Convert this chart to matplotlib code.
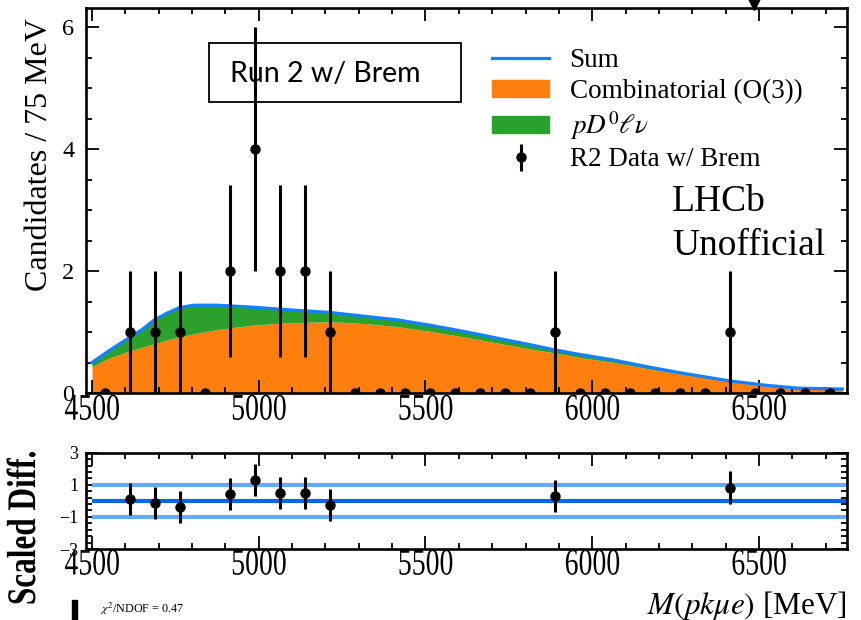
import numpy as np
import matplotlib
matplotlib.use("Agg")
import matplotlib.pyplot as plt
from matplotlib.patches import Patch, Rectangle
from matplotlib.lines import Line2D
from matplotlib.ticker import MultipleLocator, AutoMinorLocator
from matplotlib.patheffects import AbstractPathEffect
from matplotlib.transforms import Affine2D

plt.rcParams["font.family"] = "serif"
plt.rcParams["font.serif"] = ["Liberation Serif", "DejaVu Serif"]
plt.rcParams["mathtext.fontset"] = "stix"

# binned data (75 MeV bins)
bin_centers = np.arange(4537.5, 6750, 75)
counts = np.array([0, 1, 1, 1, 0, 2, 4, 2, 2, 1, 0, 0, 0, 0, 0,
                   0, 0, 0, 1, 0, 0, 0, 0, 0, 0, 1, 0, 0, 0, 0])
errors = np.sqrt(counts)

# fit components
curve_mass = [4500, 4550, 4612.5, 4650, 4687.5, 4725, 4762.5, 4805, 4875, 4975,
              5075, 5215, 5315, 5415, 5515, 5615, 5715, 5815, 5885, 5965,
              6065, 6165, 6265, 6410, 6515, 6615, 6750]
comb = [0.43, 0.57, 0.69, 0.75, 0.81, 0.87, 0.92, 0.97, 1.04, 1.11,
        1.15, 1.17, 1.14, 1.09, 1.01, 0.92, 0.82, 0.72, 0.66, 0.58,
        0.50, 0.40, 0.31, 0.19, 0.12, 0.07, 0.055]
pdlnu = [0.07, 0.12, 0.22, 0.29, 0.39, 0.44, 0.48, 0.47, 0.40, 0.30,
         0.22, 0.15, 0.12, 0.11, 0.10, 0.09, 0.08, 0.07, 0.05, 0.05,
         0.04, 0.03, 0.02, 0.01, 0.01, 0.01, 0.01]

# scaled differences
pull_mass = [4612.5, 4687.5, 4762.5, 4912.5, 4987.5, 5062.5, 5137.5, 5212.5, 5887.5, 6412.5]
pull = [0.10, -0.15, -0.37, 0.44, 1.31, 0.48, 0.48, -0.27, 0.31, 0.83]
pull_err = [1, 1, 1, 1, 1, 1, 1, 1, 1, 1]

orange = "#ff7f0e"
green = "#2ca02c"
blue = "#1380ff"


class Stretch(AbstractPathEffect):
    # stretch glyphs around their centre (the original has tall labels)
    def __init__(self, sx=1.0, sy=1.0):
        super().__init__()
        self.sx, self.sy = sx, sy

    def draw_path(self, renderer, gc, tpath, affine, rgbFace=None):
        ext = tpath.get_extents()
        cx, cy = ext.x0 + ext.width / 2, ext.y0 + ext.height / 2
        t = Affine2D().translate(-cx, -cy).scale(self.sx, self.sy).translate(cx, cy)
        renderer.draw_path(gc, tpath, t + affine, rgbFace)


W, H = 861, 620
fig = plt.figure(figsize=(W / 100, H / 100), dpi=100)
ax = fig.add_axes([86 / W, 1 - 393 / H, (847 - 86) / W, (393 - 8.3) / H])
axp = fig.add_axes([86 / W, 1 - 549 / H, (847 - 86) / W, (549 - 452.7) / H])

# main panel
comb = np.array(comb)
total = comb + np.array(pdlnu)
ax.fill_between(curve_mass, 0, comb, color=orange, lw=0)
ax.fill_between(curve_mass, comb, total, color=green, lw=0)
ax.plot(curve_mass, total, color=blue, lw=2.3)
ax.errorbar(bin_centers, counts, yerr=errors, fmt="o", color="k", ms=6.5,
            elinewidth=2.2, capsize=0)

ax.set_xlim(4482, 6764)
ax.set_ylim(0, 6.31)
ax.xaxis.set_major_locator(MultipleLocator(500))
ax.xaxis.set_minor_locator(MultipleLocator(100))
ax.yaxis.set_major_locator(MultipleLocator(2))
ax.yaxis.set_minor_locator(MultipleLocator(0.5))
ax.set_xticks([4500, 5000, 5500, 6000, 6500])

ax.plot([6485], [1.011], marker="v", ms=9, color="k",
        transform=ax.get_xaxis_transform(), clip_on=False)

ax.set_ylabel("Candidates / 75 MeV", fontsize=23)
ax.yaxis.set_label_coords(-0.042, 0.619)

# text box
ax.add_patch(Rectangle((0.1617, 0.7564), 0.3313, 0.1534, transform=ax.transAxes,
                       fill=False, lw=1.3, ec="k", zorder=5))
ax.text(0.3147, 0.830, "Run 2 w/ Brem", transform=ax.transAxes, ha="center",
        va="center", fontsize=20.5, family=["Lato", "DejaVu Sans"], zorder=5)

ax.text(0.770, 0.473, "LHCb", transform=ax.transAxes, fontsize=27, va="baseline")
ax.text(0.770, 0.359, "Unofficial", transform=ax.transAxes, fontsize=27, va="baseline")

handles = [Line2D([], [], color=blue, lw=2.3),
           Patch(color=orange), Patch(color=green),
           ax.containers[0]]
labels = ["Sum", "Combinatorial (O(3))", r"$pD^0\ell\nu$", "R2 Data w/ Brem"]
ax.legend(handles, labels, loc="upper left", bbox_to_anchor=(0.534, 0.896),
          frameon=False, fontsize=19.5, handlelength=2.1, handletextpad=0.75,
          labelspacing=0.2, borderpad=0, borderaxespad=0, handleheight=0.6)

# pull panel
axp.hlines([1, -1], 4500, 6764, color="#66aaff", lw=3)
axp.hlines([0], 4500, 6764, color="#0a66f0", lw=3)
axp.errorbar(pull_mass, pull, yerr=pull_err, fmt="o", color="k", ms=6.5,
             elinewidth=2.2, capsize=0)
axp.set_xlim(4482, 6764)
axp.set_ylim(-3, 3)
axp.set_xticks([4500, 5000, 5500, 6000, 6500])
axp.xaxis.set_minor_locator(MultipleLocator(100))
axp.set_yticks([-3, -1, 1, 3])
axp.yaxis.set_minor_locator(AutoMinorLocator(5))
axp.set_ylabel("Scaled Diff.", fontsize=22.5, fontweight="bold")
axp.yaxis.set_label_coords(-0.062, 0.22)

for a in (ax, axp):
    for s in a.spines.values():
        s.set_linewidth(1.9)
    a.tick_params(which="both", direction="in", top=True, right=True, width=1.3)
    a.tick_params(which="major", length=9.3)
    a.tick_params(which="minor", length=4.6)
    a.tick_params(axis="x", labelsize=20)

ax.tick_params(axis="x", pad=3.2)
ax.tick_params(axis="y", labelsize=17.5, pad=8.5)
axp.tick_params(axis="y", labelsize=13, pad=5.5)
axp.tick_params(axis="x", pad=2.4)

for a in (ax, axp):
    for lab in a.get_xticklabels():
        lab.set_path_effects([Stretch(1.0, 1.35)])
axp.yaxis.label.set_path_effects([Stretch(1.0, 1.3)])

fig.text(847 / W, 1 - 614 / H, r"$M(pk\mu e)$ [MeV]", ha="right", va="baseline",
         fontsize=22.5)
fig.text(100 / W, 1 - 613 / H, r"$\chi^2$/NDOF = 0.47", ha="left", va="baseline",
         fontsize=8.7)
fig.patches.append(Rectangle((72 / W, 0), 5 / W, 20 / H, transform=fig.transFigure,
                             color="k"))

fig.savefig("out.png", dpi=100)
